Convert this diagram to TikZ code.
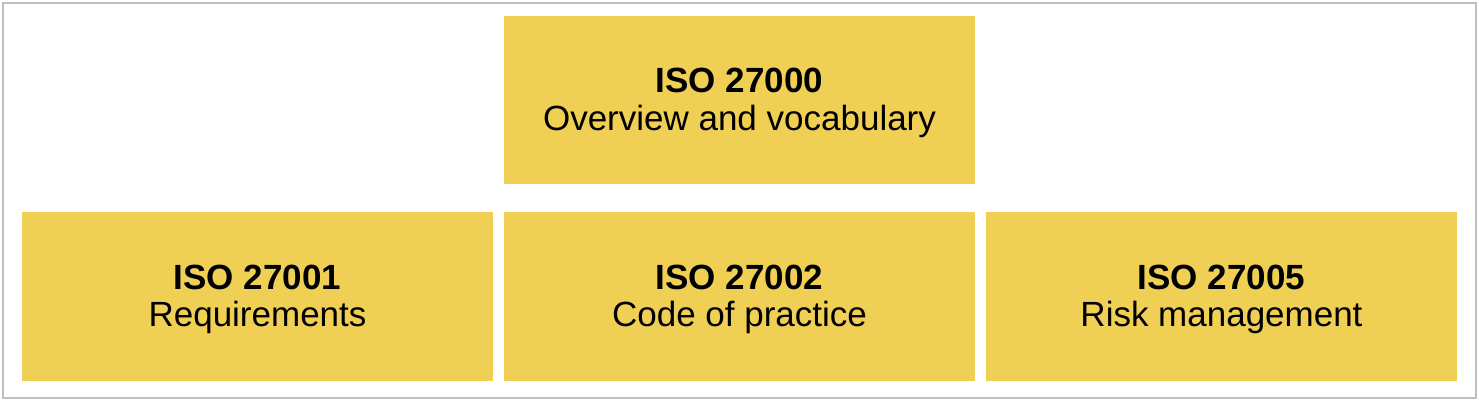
\documentclass[tikz,border=0pt]{standalone}
\usepackage{fontspec}
\setmainfont{Liberation Sans}
\definecolor{isoyellow}{HTML}{F0CF55}
\definecolor{frame}{HTML}{C0C0C0}
\tikzset{
  part/.style={fill=isoyellow, inner sep=0pt, minimum width=471pt,
    minimum height=169pt, align=center, text height=67pt, text depth=7pt,
    font=\fontsize{35}{37}\selectfont}
}
\begin{document}
\begin{tikzpicture}[x=1pt, y=-1pt]
      \useasboundingbox (0,0) rectangle (1479,401);
      \draw [frame, line width=2pt] (3,3) rectangle (1476,398);
      \node [part, minimum height=168pt] (s0) at (739.5,100) {\textbf{ISO 27000}\\Overview and vocabulary};
      \node [part] (s1) at (257.5,296) {\textbf{ISO 27001}\\Requirements};
      \node [part] (s2) at (739.5,296) {\textbf{ISO 27002}\\Code of practice};
      \node [part] (s5) at (1221.5,296) {\textbf{ISO 27005}\\Risk management};
    \end{tikzpicture}
\end{document}
